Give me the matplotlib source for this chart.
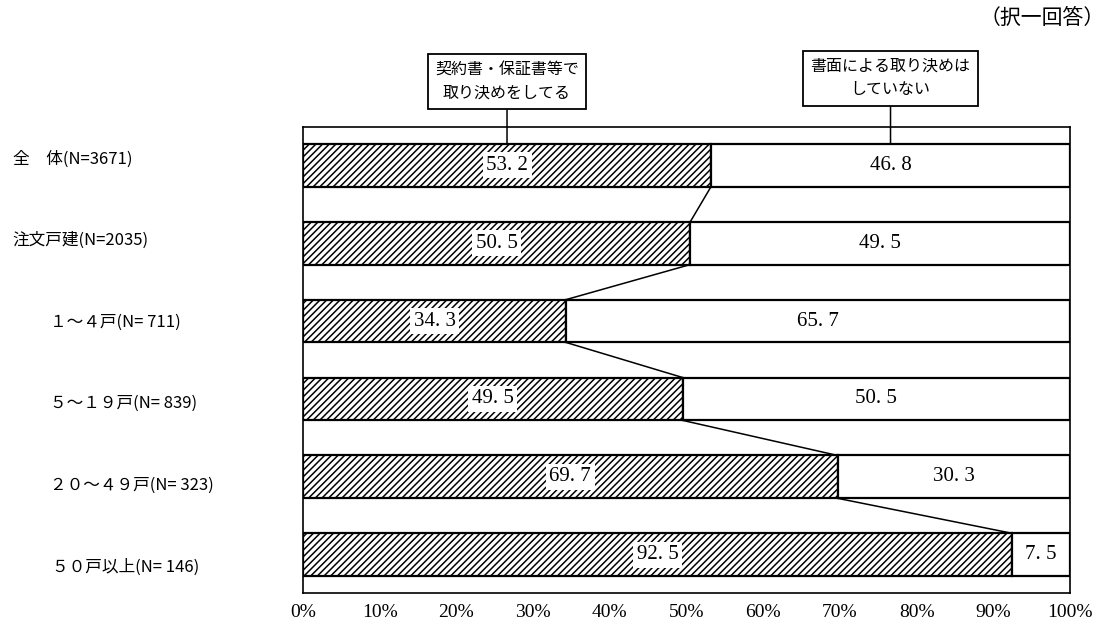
import matplotlib.pyplot as plt

plt.rcParams['font.family'] = ['Noto Sans CJK JP', 'DejaVu Sans']
plt.rcParams['hatch.linewidth'] = 1.1

# share of respondents (%), top to bottom
categories = ['全　体(N=3671)', '注文戸建(N=2035)', '１～４戸(N= 711)',
              '５～１９戸(N= 839)', '２０～４９戸(N= 323)', '５０戸以上(N= 146)']
written = [53.2, 50.5, 34.3, 49.5, 69.7, 92.5]
not_written = [46.8, 49.5, 65.7, 50.5, 30.3, 7.5]
series_names = ['契約書・保証書等で\n取り決めをしてる', '書面による取り決めは\nしていない']
x_ticks = [0, 10, 20, 30, 40, 50, 60, 70, 80, 90, 100]

label_indent = [13, 12, 50, 50, 50, 52]  # px from left edge

W, H = 1119, 634
fig = plt.figure(figsize=(W / 100, H / 100), dpi=100)
ax = fig.add_axes([303 / W, 1 - 593 / H, (1070 - 303) / W, (593 - 127) / H])

bar_h = 0.55
ys = list(range(len(categories)))

ax.barh(ys, written, height=bar_h, color='white', edgecolor='black',
        hatch='/////', linewidth=1.6)
ax.barh(ys, not_written, left=written, height=bar_h, color='white',
        edgecolor='black', linewidth=1.6)

# lines joining the split points of neighbouring bars
for i in range(len(ys) - 1):
    ax.plot([written[i], written[i + 1]],
            [ys[i] + bar_h / 2, ys[i + 1] - bar_h / 2],
            color='black', lw=1.1)

def fmt(v):
    return f'{v:.1f}'.replace('.', '. ')

for y, a, b in zip(ys, written, not_written):
    ax.text(a / 2, y, fmt(a), ha='center', va='center', fontsize=15,
            family='Liberation Serif',
            bbox=dict(facecolor='white', edgecolor='none', pad=2.5))
    ax.text(a + b / 2, y, fmt(b), ha='center', va='center', fontsize=15,
            family='Liberation Serif',
            bbox=dict(facecolor='white', edgecolor='none', pad=2.5))

ax.set_xlim(0, 100)
ax.set_ylim(len(ys) - 0.51, -0.49)
ax.set_yticks([])
ax.set_xticks(x_ticks)
ax.set_xticklabels([f'{t}%' for t in x_ticks], family='Liberation Serif',
                   fontsize=14)
ax.tick_params(axis='x', length=0, pad=8)
for s in ax.spines.values():
    s.set_linewidth(1.2)

# series callouts above the first bar
callout_x = [written[0] / 2, written[0] + not_written[0] / 2]
callout_y = [1.097, 1.105]
for name, cx, cy in zip(series_names, callout_x, callout_y):
    ax.annotate(name, xy=(cx, ys[0] - bar_h / 2), xycoords='data',
                xytext=(cx, cy), textcoords=('data', 'axes fraction'),
                ha='center', va='center', fontsize=11.5, linespacing=1.5,
                bbox=dict(boxstyle='square,pad=0.45', facecolor='white',
                          edgecolor='black', linewidth=1.3),
                arrowprops=dict(arrowstyle='-', color='black', lw=1.1,
                                shrinkA=0, shrinkB=0, relpos=(0.5, 0)),
                annotation_clip=False)

# category labels
for i, (lab, ind) in enumerate(zip(categories, label_indent)):
    fig.text(ind / W, 1 - (159 + 81.6 * i) / H, lab, ha='left', va='center',
             fontsize=12)

fig.text(1042 / W, 1 - 18 / H, '（択一回答）', ha='center', va='center', fontsize=15)

fig.savefig('out.png', dpi=100)
